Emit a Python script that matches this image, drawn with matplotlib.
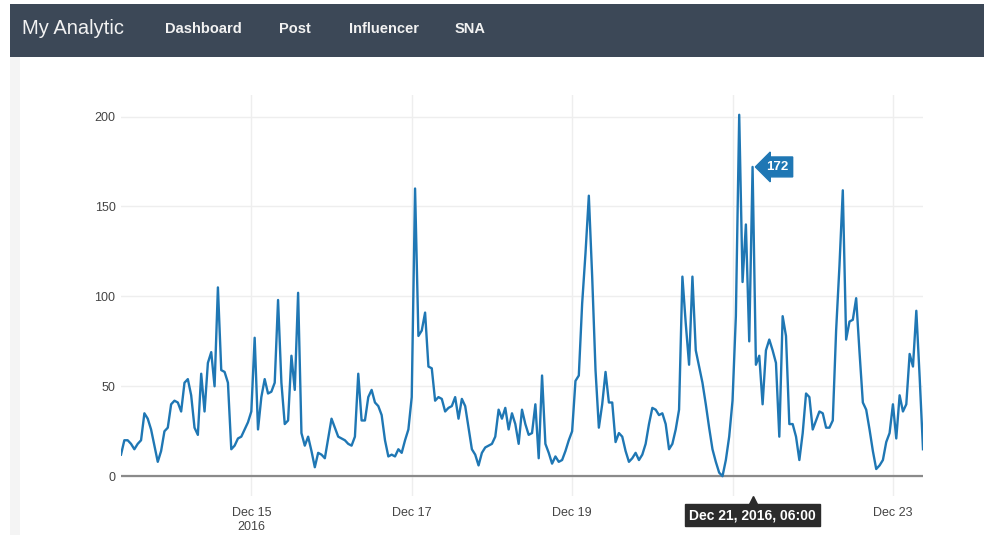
import matplotlib
matplotlib.use("Agg")
import matplotlib.pyplot as plt
from matplotlib.patches import Rectangle
from matplotlib.transforms import offset_copy
import pandas as pd

# hourly counts, first point Dec 13 2016 09:00
start = "2016-12-13 09:00"
counts = [
    12, 20, 20, 18, 15, 18, 20, 35, 32, 26, 17, 8, 14, 25, 27, 40, 42, 41, 36, 52,
    54, 45, 27, 23, 57, 36, 63, 69, 50, 105, 59, 58, 52, 15, 17, 21, 22, 26, 30, 36,
    77, 26, 44, 54, 46, 47, 52, 98, 52, 29, 31, 67, 48, 102, 24, 17, 22, 14, 5, 13,
    12, 10, 21, 32, 27, 22, 21, 20, 18, 17, 22, 57, 31, 31, 44, 48, 41, 39, 34, 20,
    11, 12, 11, 15, 13, 20, 26, 44, 160, 78, 81, 91, 61, 60, 42, 44, 43, 36, 38, 39,
    44, 32, 43, 39, 27, 15, 12, 6, 13, 16, 17, 18, 22, 37, 32, 38, 26,
    35, 29, 18, 37, 29, 23, 24, 40, 10, 56, 18, 13, 7, 11, 8, 9, 14, 20, 25, 53,
    56, 96, 124, 156, 111, 59, 27, 40, 58, 41, 41, 19, 24, 22, 14, 8, 10, 13, 9, 12,
    18, 29, 38, 37, 34, 35, 29, 15, 18, 26, 37,
    111, 85, 62, 111, 70, 61, 52, 40, 27, 15, 8, 2, 0, 9, 22, 42, 89, 201, 108, 140,
    75, 172, 62, 67, 40, 70, 76, 70, 63, 22, 89, 78, 29, 29, 22, 9, 24, 46, 44, 26,
    31, 36, 35, 27, 27, 31, 81, 117, 159, 76, 86, 87, 99, 69, 41, 37, 26, 14, 4,
    6, 9, 19, 24, 40, 21, 45, 36, 40, 68, 61, 92, 55, 15,
]
tick_dates = ["2016-12-15", "2016-12-17", "2016-12-19", "2016-12-21", "2016-12-23"]
# the Dec 21 label sits under the hover box in the screenshot
tick_labels = ["Dec 15\n2016", "Dec 17", "Dec 19", "", "Dec 23"]
y_ticks = [0, 50, 100, 150, 200]
menu = ["Dashboard", "Post", "Influencer", "SNA"]
menu_x = [165, 279, 349, 455]
hover_time = "2016-12-21 06:00"
hover_value = 172

times = pd.date_range(start, periods=len(counts), freq="h")

plt.rcParams["font.family"] = ["Liberation Sans", "DejaVu Sans"]
W, H = 984, 535
fig = plt.figure(figsize=(W / 100, H / 100), dpi=100)
fig.patch.set_facecolor("white")

# navbar
fig.patches.append(Rectangle((10 / W, 1 - 57 / H), 1, 53 / H, transform=fig.transFigure,
                             facecolor="#3c4857", edgecolor="none"))
fig.patches.append(Rectangle((10 / W, 0), 10 / W, 1 - 57 / H, transform=fig.transFigure,
                             facecolor="#f4f4f4", edgecolor="none"))
fig.text(22 / W, 1 - 29 / H, "My Analytic", color="#f2f2f2", fontsize=14.5,
         va="center", ha="left")
for name, mx in zip(menu, menu_x):
    fig.text(mx / W, 1 - 29 / H, name, color="#f2f2f2", fontsize=10.5,
             fontweight="bold", va="center", ha="left")

ax = fig.add_axes([121 / W, 39 / H, 802 / W, 401 / H])
ax.plot(times, counts, color="#1f77b4", lw=1.7, zorder=3, solid_joinstyle="round")
ax.set_xlim(times[0], times[-1])
ax.set_ylim(-11, 212)

ax.set_yticks(y_ticks)
ax.set_xticks(pd.to_datetime(tick_dates))
ax.set_xticklabels(tick_labels)
ax.tick_params(axis="both", length=0, labelsize=9, labelcolor="#444444")
ax.tick_params(axis="x", pad=8)
ax.tick_params(axis="y", pad=4)
ax.grid(True, color="#eeeeee", lw=1)
ax.set_axisbelow(True)
ax.axhline(0, color="#8a8a8a", lw=1.6, zorder=2)
for s in ax.spines.values():
    s.set_visible(False)

# hover labels
ht = pd.Timestamp(hover_time)
ax.annotate(str(hover_value), xy=(ht, hover_value), xytext=(25, 0),
            textcoords="offset pixels", color="white", fontsize=9.5, fontweight="bold",
            ha="center", va="center", zorder=5,
            bbox=dict(boxstyle="larrow,pad=0.3", fc="#1f77b4", ec="#1f77b4"))
ax.annotate("Dec 21, 2016, 06:00", xy=(ht, 0), xycoords="data",
            xytext=(0, -39), textcoords="offset pixels", color="white",
            fontsize=10, fontweight="bold", ha="center", va="center", zorder=6,
            annotation_clip=False,
            bbox=dict(boxstyle="square,pad=0.3", fc="#2b2b2b", ec="#2b2b2b"))
ax.plot([ht], [0], marker="^", ms=7, color="#2b2b2b", clip_on=False, zorder=6,
        transform=offset_copy(ax.transData, fig, y=-25, units="dots"))

fig.savefig("out.png", dpi=100)
